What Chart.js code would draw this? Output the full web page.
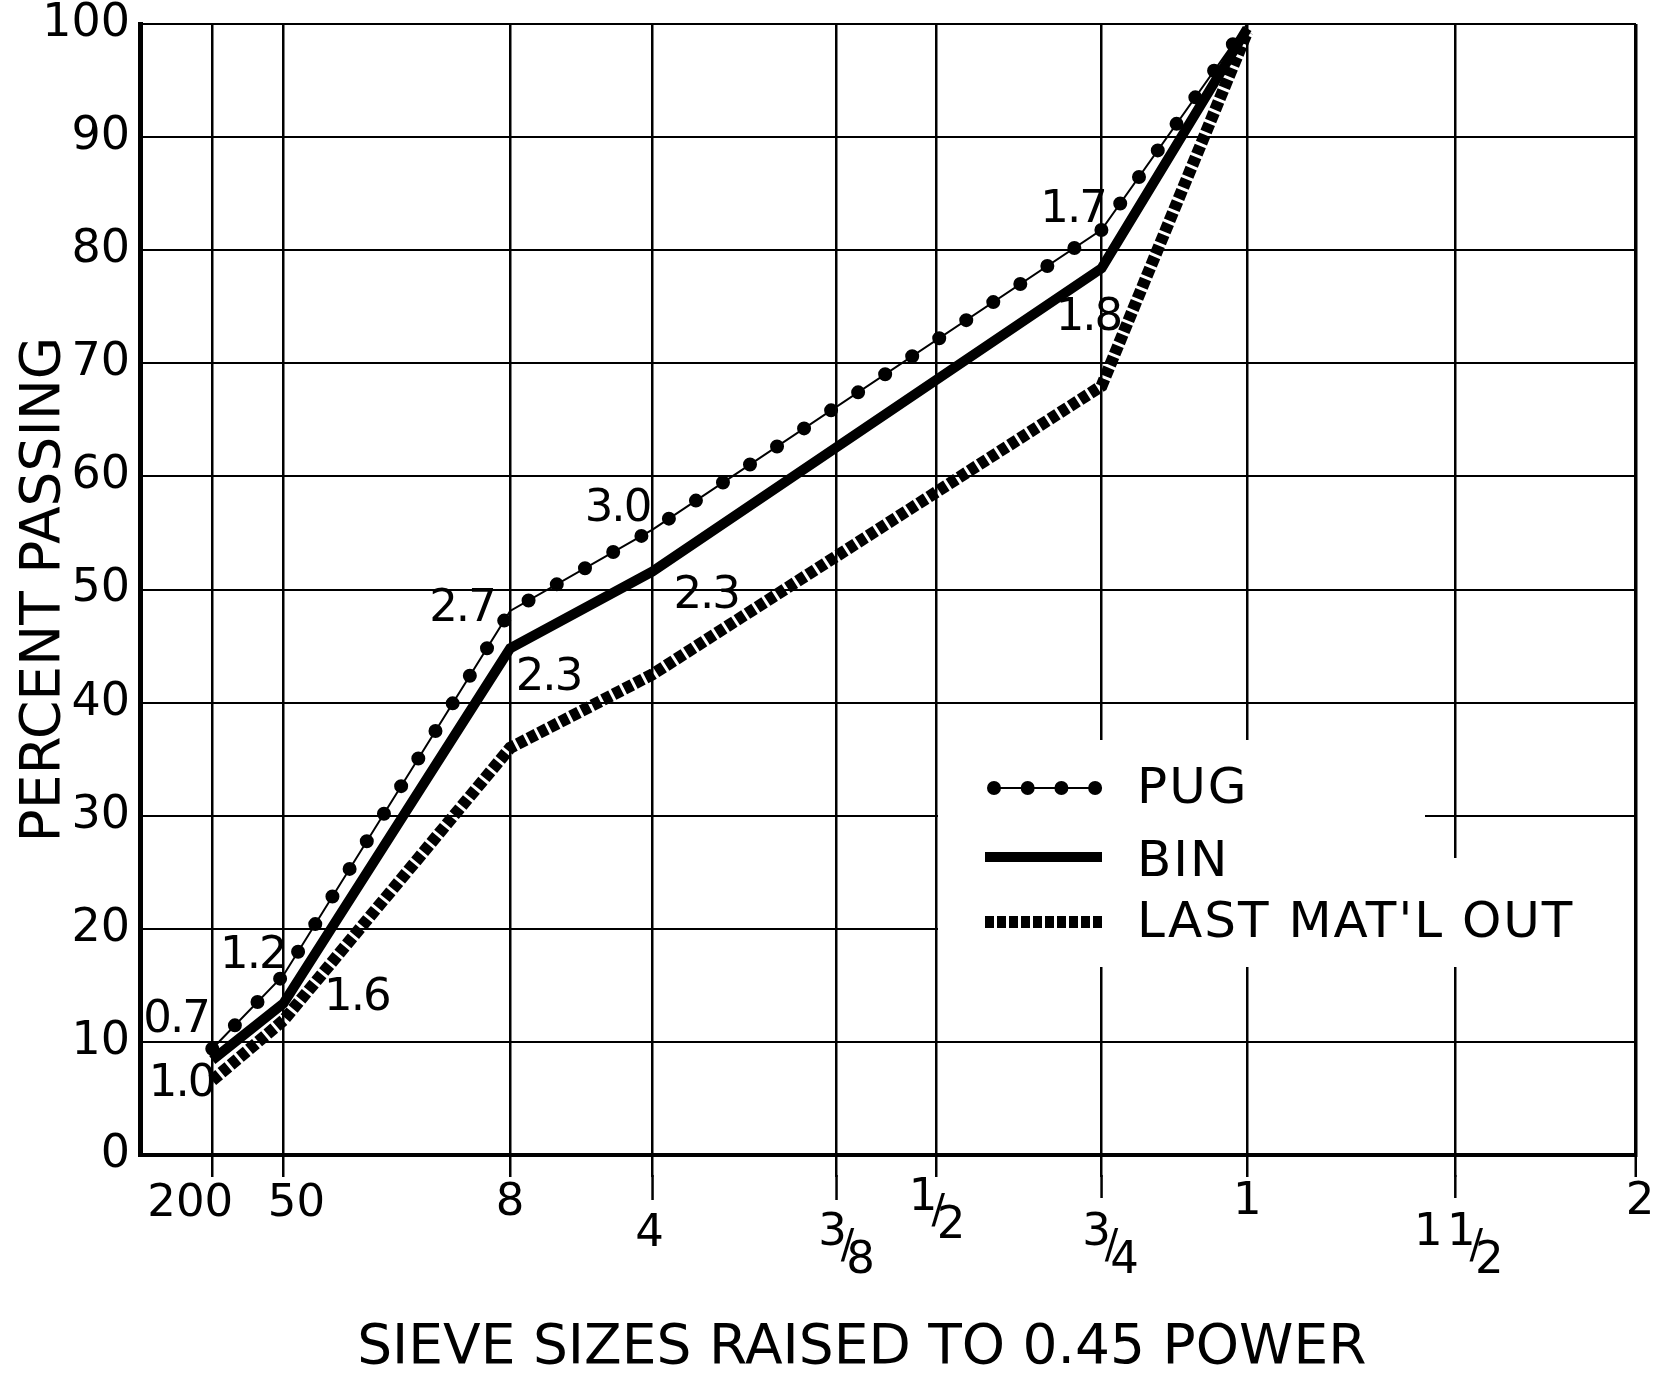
<!DOCTYPE html>
<html>
<head>
<meta charset="utf-8">
<title>Percent passing - sieve sizes raised to 0.45 power</title>
<script src="https://cdn.jsdelivr.net/npm/chart.js@4.4.1/dist/chart.umd.min.js"></script>
<style>
    html, body { margin: 0; padding: 0; background: #fff; }
    #wrap { width: 1657px; height: 1376px; position: relative; }
</style>
</head>
<body>
<div id="wrap"><canvas id="gradationChart"></canvas></div>
<script>
// sieves on the x axis, position in (inches)^0.45
const sieveLabels = ['200', '50', '8', '4', '3/8', '1/2', '3/4', '1', '1 1/2', '2'];
const sievePos = [0.066, 0.131, 0.338, 0.468, 0.636, 0.727, 0.878, 1.011, 1.201, 1.366];

const yTickValues = [0, 10, 20, 30, 40, 50, 60, 70, 80, 90, 100];

// sieves where the three curves were plotted, percent passing
const plottedSieves = ['200', '50', '8', '4', '3/4', '1'];
const pugPassing = [9.4, 15.9, 48.1, 55.3, 81.8, 100];
const binPassing = [8.4, 13.4, 44.8, 51.6, 78.4, 99.6];
const lastOutPassing = [6.6, 11.9, 36.0, 42.5, 68.0, 99.3];

const seriesNames = ['PUG', 'BIN', "LAST MAT'L OUT"];

// numbers written beside the curves, anchored in axis units
const noteText = ['0.7', '1.0', '1.2', '1.6', '2.7', '2.3', '3.0', '2.3', '1.7', '1.8'];
const noteX = [0.033, 0.038, 0.103, 0.198, 0.294, 0.373, 0.436, 0.517, 0.852, 0.866];
const noteY = [12.3, 6.7, 18.0, 14.3, 48.7, 42.6, 57.5, 49.8, 83.9, 74.4];

// hand lettered tick labels are staggered below the axis
const labelDx = [-22, 13, 0, -3, 11, 2, 10, 0, 21, 4];
const labelDy = [45, 45, 44, 75, 88, 53, 88, 43, 88, 43];
const tickLen = [22, 22, 22, 45, 45, 22, 43, 22, 43, 22];

const fontFamily = "'DejaVu Sans', 'Liberation Sans', sans-serif";

function toPoints(values) {
    return values.map((v, i) => ({ x: sievePos[sieveLabels.indexOf(plottedSieves[i])], y: v }));
}

function drawLetters(ctx, text, x, yMid, size, align, spacing) {
    ctx.save();
    ctx.font = `${size}px ${fontFamily}`;
    ctx.fillStyle = '#000';
    ctx.textAlign = align || 'center';
    ctx.textBaseline = 'alphabetic';
    ctx.letterSpacing = (spacing || 0) + 'px';
    ctx.fillText(text, x, yMid + size * 0.3645);
    ctx.restore();
}

function drawSieveLabel(ctx, text, cx, cy) {
    const parts = text.split(' ');
    const last = parts[parts.length - 1];
    if (parts.length === 2) {
        drawLetters(ctx, parts[0], cx - 48, cy - 14, 45);
    }
    if (last.includes('/')) {
        const [num, den] = last.split('/');
        drawLetters(ctx, num, cx - 15, cy - 14, 45);
        drawLetters(ctx, '/', cx, cy, 40);
        drawLetters(ctx, den, cx + 13, cy + 14, 45);
    } else {
        drawLetters(ctx, last, cx, cy, 45);
    }
}

function strokeSample(ctx, x0, x1, y, width, dash, cap) {
    ctx.save();
    ctx.strokeStyle = '#000';
    ctx.lineWidth = width;
    ctx.lineCap = cap || 'butt';
    ctx.setLineDash(dash || []);
    ctx.beginPath();
    ctx.moveTo(x0, y);
    ctx.lineTo(x1, y);
    ctx.stroke();
    ctx.restore();
}

const sketchPlugin = {
    id: 'sketch',
    beforeDatasetsDraw(chart) {
        // white patch behind the legend hides the grid there
        const ctx = chart.ctx;
        ctx.save();
        ctx.fillStyle = '#fff';
        ctx.fillRect(938, 740, 487, 118);
        ctx.fillRect(938, 858, 696, 109);
        ctx.restore();
    },
    afterDraw(chart) {
        const ctx = chart.ctx;
        const xs = chart.scales.x;
        const ys = chart.scales.y;
        const axisY = chart.chartArea.bottom;

        // longer tick marks and the staggered sieve labels
        sievePos.forEach((v, i) => {
            const px = xs.getPixelForValue(v);
            if (tickLen[i] > 22) {
                ctx.save();
                ctx.strokeStyle = '#000';
                ctx.lineWidth = 2.5;
                ctx.beginPath();
                ctx.moveTo(px, axisY + 20);
                ctx.lineTo(px, axisY + tickLen[i]);
                ctx.stroke();
                ctx.restore();
            }
            drawSieveLabel(ctx, sieveLabels[i], px + labelDx[i], axisY + labelDy[i]);
        });

        noteText.forEach((t, i) => {
            drawLetters(ctx, t, xs.getPixelForValue(noteX[i]), ys.getPixelForValue(noteY[i]), 45, 'center', -2);
        });

        // legend
        strokeSample(ctx, 994, 1095, 788, 2);
        strokeSample(ctx, 994, 1096, 788, 14, [0, 33.7], 'round');
        strokeSample(ctx, 985, 1102, 857, 10);
        strokeSample(ctx, 985, 1103, 922, 12, [9, 3]);
        drawLetters(ctx, seriesNames[0], 1137, 785, 50, 'left', 2);
        drawLetters(ctx, seriesNames[1], 1137, 858, 50, 'left', 2);
        drawLetters(ctx, seriesNames[2], 1137, 919, 50, 'left', 2);
    }
};

function buildChart() {
    const ctx = document.getElementById('gradationChart').getContext('2d');
    return new Chart(ctx, {
        type: 'line',
        data: {
            datasets: [
                {
                    label: seriesNames[2],
                    data: toPoints(lastOutPassing),
                    borderColor: '#000',
                    borderWidth: 12,
                    borderDash: [9, 3],
                    pointRadius: 0,
                    clip: 0
                },
                {
                    label: seriesNames[1],
                    data: toPoints(binPassing),
                    borderColor: '#000',
                    borderWidth: 10,
                    pointRadius: 0,
                    clip: 0
                },
                {
                    label: seriesNames[0],
                    data: toPoints(pugPassing),
                    borderColor: '#000',
                    borderWidth: 2,
                    pointRadius: 0,
                    clip: 0
                },
                {
                    // the dots strung along the PUG line
                    label: seriesNames[0] + ' dots',
                    data: toPoints(pugPassing),
                    borderColor: '#000',
                    borderWidth: 14,
                    borderDash: [0, 32.5],
                    borderCapStyle: 'round',
                    pointRadius: 0,
                    clip: 0
                }
            ]
        },
        options: {
            responsive: true,
            maintainAspectRatio: false,
            animation: false,
            layout: { padding: { top: 24, right: 21, left: 0, bottom: 0 } },
            plugins: {
                legend: { display: false },
                tooltip: { enabled: false }
            },
            scales: {
                x: {
                    type: 'linear',
                    min: 0,
                    max: sievePos[sievePos.length - 1],
                    afterBuildTicks: (scale) => {
                        scale.ticks = sievePos.map(v => ({ value: v }));
                    },
                    afterFit: (scale) => {
                        scale.height = 221;
                        scale.paddingLeft = 0;
                        scale.paddingRight = 0;
                    },
                    ticks: { display: false },
                    grid: {
                        color: '#000',
                        lineWidth: (c) => (c.index === sievePos.length - 1 ? 3.5 : 2.5),
                        drawTicks: true,
                        tickLength: 22,
                        tickWidth: 2.5,
                        tickColor: '#000'
                    },
                    border: { display: true, color: '#000', width: 4 },
                    title: {
                        display: true,
                        text: 'SIEVE SIZES RAISED TO 0.45 POWER\u00a0\u00a0\u00a0',
                        color: '#000',
                        font: { family: fontFamily, size: 55, lineHeight: 1 },
                        padding: { top: 0, bottom: 0 }
                    }
                },
                y: {
                    min: 0,
                    max: 100,
                    afterBuildTicks: (scale) => {
                        scale.ticks = yTickValues.map(v => ({ value: v }));
                    },
                    afterFit: (scale) => {
                        scale.width = 140;
                        scale.paddingTop = 0;
                        scale.paddingBottom = 0;
                    },
                    ticks: {
                        color: '#000',
                        padding: 10,
                        font: { family: fontFamily, size: 46, lineHeight: 1 }
                    },
                    grid: { color: '#000', lineWidth: 2, drawTicks: false },
                    border: { display: true, color: '#000', width: 5 },
                    title: {
                        display: true,
                        text: 'PERCENT PASSING',
                        color: '#000',
                        font: { family: fontFamily, size: 55, lineHeight: 1 },
                        padding: { top: 17, bottom: 0 }
                    }
                }
            }
        },
        plugins: [sketchPlugin]
    });
}

window.onload = function () {
    try {
        buildChart();
    } catch (error) {
        console.error('Error building chart:', error);
    }
};
</script>
</body>
</html>
